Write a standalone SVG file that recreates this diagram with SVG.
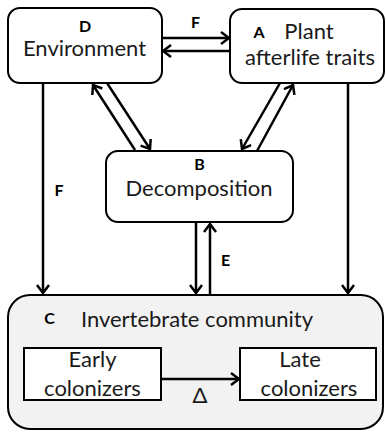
<svg xmlns="http://www.w3.org/2000/svg" width="386" height="432" viewBox="0 0 386 432">
<style>
.box{fill:#fff;stroke:#000;stroke-width:2}
.cbox{fill:#f2f2f2;stroke:#000;stroke-width:2}
.t{font-family:Lato,"Liberation Sans",sans-serif;font-size:22px;fill:#1a1a1a;text-anchor:middle}
.l{font-family:Lato,"Liberation Sans",sans-serif;font-size:16px;font-weight:bold;fill:#000;text-anchor:middle}
.c line{stroke:#000;stroke-width:2.5;marker-end:url(#ah)}
</style>
<defs>
<marker id="ah" viewBox="0 0 12 14" refX="10" refY="7" markerWidth="12" markerHeight="14" markerUnits="userSpaceOnUse" orient="auto">
<path d="M2,1 L10,7 L2,13" fill="none" stroke="#000" stroke-width="2.5"/>
</marker>
</defs>
<rect width="386" height="432" fill="#fff"/>
<g id="C">
<rect class="cbox" x="8" y="295" width="375" height="134" rx="22"/>
<text class="l" x="49.5" y="324">C</text>
<text class="t" x="197" y="327">Invertebrate community</text>
</g>
<g id="early">
<rect class="box" x="24" y="348" width="137" height="52"/>
<text class="t" x="92.5" y="367">Early</text>
<text class="t" x="92.5" y="396">colonizers</text>
</g>
<g id="late">
<rect class="box" x="240" y="348" width="136" height="52"/>
<text class="t" x="300" y="367">Late</text>
<text class="t" x="309" y="396">colonizers</text>
</g>
<g id="D">
<rect class="box" x="8" y="8" width="154" height="75" rx="12"/>
<text class="l" x="85" y="32">D</text>
<text class="t" x="84.5" y="56">Environment</text>
</g>
<g id="A">
<rect class="box" x="230" y="9" width="154" height="74" rx="12"/>
<text class="l" x="259" y="38">A</text>
<text class="t" x="309" y="39">Plant</text>
<text class="t" x="310" y="65">afterlife traits</text>
</g>
<g id="B">
<rect class="box" x="106" y="151" width="187" height="71" rx="12"/>
<text class="l" x="199.5" y="170">B</text>
<text class="t" x="199" y="196">Decomposition</text>
</g>
<g id="connectors" class="c">
<line x1="162" y1="38" x2="229" y2="38"/>
<line x1="230" y1="51" x2="163" y2="51"/>
<line x1="135" y1="150" x2="93" y2="85"/>
<line x1="107" y1="83" x2="150" y2="149"/>
<line x1="280" y1="83" x2="242" y2="149"/>
<line x1="257" y1="151" x2="293" y2="85"/>
<line x1="43" y1="83" x2="43" y2="293"/>
<line x1="348" y1="83" x2="348" y2="293"/>
<line x1="196" y1="222" x2="196" y2="293"/>
<line x1="210" y1="295" x2="210" y2="224"/>
<line x1="161" y1="379" x2="239" y2="379"/>
</g>
<g id="labels">
<text class="l" x="195.5" y="28">F</text>
<text class="l" x="59" y="196">F</text>
<text class="l" x="225.5" y="266">E</text>
<text class="t" x="200" y="403">Δ</text>
</g>
</svg>
